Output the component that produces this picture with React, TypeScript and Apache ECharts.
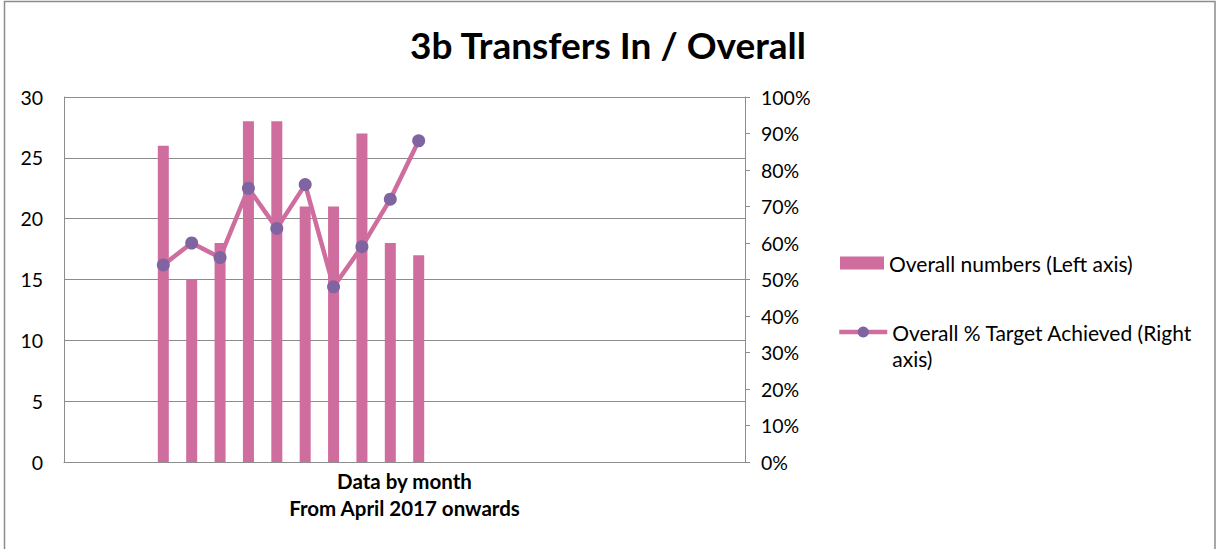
import React, { useEffect, useRef } from "react";
import * as echarts from "echarts";

const categories = [
  "Jan-17", "Feb-17", "Mar-17", "Apr-17", "May-17", "Jun-17", "Jul-17", "Aug-17",
  "Sep-17", "Oct-17", "Nov-17", "Dec-17", "Jan-18", "Feb-18", "Mar-18", "Apr-18",
  "May-18", "Jun-18", "Jul-18", "Aug-18", "Sep-18", "Oct-18", "Nov-18", "Dec-18",
];
const overallNumbers = [
  null, null, null, 26, 15, 18, 28, 28, 21, 21, 27, 18, 17,
  null, null, null, null, null, null, null, null, null, null, null,
];
const overallPct = [
  null, null, null, 0.54, 0.6, 0.56, 0.75, 0.64, 0.76, 0.48, 0.59, 0.72, 0.88,
  null, null, null, null, null, null, null, null, null, null, null,
];
const barName = "Overall numbers (Left axis)";
const lineName = "Overall % Target Achieved (Right axis)";

const FONT = "Lato, 'Open Sans', sans-serif";
const PINK = "#CF6E9E";
const PURPLE = "#8064A2";
const GRID = "#8C8C8C";

export default function App() {
  const ref = useRef<HTMLDivElement>(null);
  useEffect(() => {
    if (!ref.current) return;
    const chart = echarts.init(ref.current, null, { renderer: "svg" });
    chart.setOption({
      animation: false,
      backgroundColor: "#ffffff",
      textStyle: { fontFamily: FONT },
      title: {
        text: "3b Transfers In / Overall",
        left: "center",
        top: 26,
        padding: 0,
        textStyle: { fontFamily: FONT, fontSize: 37, fontWeight: "bold", color: "#000" },
      },
      graphic: [
        {
          type: "rect",
          shape: { x: 4.5, y: 1.5, width: 1210.5, height: 560 },
          style: { fill: "none", stroke: "#8C8C8C", lineWidth: 1.5 },
          silent: true,
        },
      ],
      legend: [
        {
          data: [{ name: barName, icon: "rect" }],
          left: 840,
          top: 251,
          padding: 0,
          itemWidth: 44,
          itemHeight: 13,
          itemGap: 4,
          textStyle: { fontFamily: FONT, fontSize: 21, color: "#000", lineHeight: 24 },
        },
        {
          data: [{ name: lineName }],
          left: 837,
          top: 293,
          padding: 0,
          itemWidth: 48,
          itemHeight: 14,
          itemGap: 4,
          lineStyle: { width: 4.5 },
          formatter: () => "\nOverall % Target Achieved (Right\naxis)",
          textStyle: {
            fontFamily: FONT,
            fontSize: 21,
            color: "#000",
            lineHeight: 26,
          },
        },
      ],
      grid: { left: 64, right: 471, top: 97, bottom: 87, containLabel: false, outerBoundsMode: "none" },
      xAxis: {
        type: "category",
        data: categories,
        axisLabel: { show: false },
        axisTick: { show: false },
        axisLine: { show: true, lineStyle: { color: GRID, width: 1 } },
        name: "Data by month\nFrom April 2017 onwards",
        nameLocation: "middle",
        nameGap: 5,
        nameTextStyle: {
          fontFamily: FONT,
          fontSize: 20.5,
          fontWeight: "bold",
          color: "#000",
          lineHeight: 27,
          verticalAlign: "top",
        },
      },
      yAxis: [
        {
          type: "value",
          min: 0,
          max: 30,
          interval: 5,
          axisLine: { show: true, lineStyle: { color: GRID } },
          axisTick: { show: false },
          axisLabel: { margin: 21, fontFamily: FONT, fontSize: 19.5, color: "#000" },
          splitLine: { show: true, lineStyle: { color: GRID, width: 1 } },
        },
        {
          type: "value",
          min: 0,
          max: 1,
          interval: 0.1,
          position: "right",
          axisLine: { show: true, lineStyle: { color: GRID } },
          axisTick: { show: true, length: 5, lineStyle: { color: GRID } },
          axisLabel: {
            margin: 16,
            fontFamily: FONT,
            fontSize: 19.5,
            color: "#000",
            formatter: (v: number) => Math.round(v * 100) + "%",
          },
          splitLine: { show: false },
        },
      ],
      series: [
        {
          name: barName,
          type: "bar",
          yAxisIndex: 0,
          data: overallNumbers,
          barWidth: 11,
          itemStyle: { color: PINK },
        },
        {
          name: lineName,
          type: "line",
          yAxisIndex: 1,
          data: overallPct,
          symbol: "circle",
          symbolSize: 13,
          lineStyle: { color: PINK, width: 4.5 },
          itemStyle: { color: PURPLE },
        },
      ],
    });
    return () => chart.dispose();
  }, []);
  return <div ref={ref} style={{ position: "absolute", left: 0, top: 0, width: 1216, height: 549 }} />;
}
